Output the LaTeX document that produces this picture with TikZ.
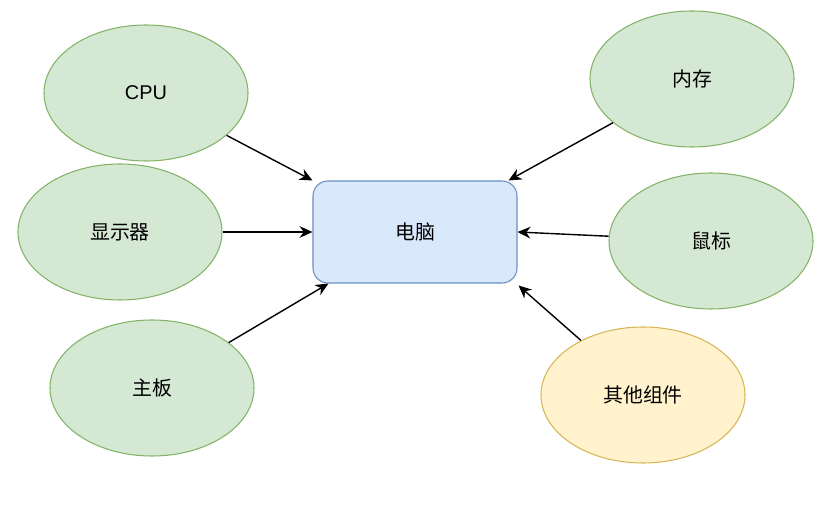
\documentclass[tikz,border=0pt]{standalone}
\usepackage{fontspec}
\setmainfont{Liberation Sans}
\newfontfamily\cjk{Noto Sans CJK SC}
\usetikzlibrary{shapes.geometric,arrows.meta,calc}
\definecolor{partfill}{HTML}{D5E8D4}
\definecolor{partline}{HTML}{82B366}
\definecolor{pcfill}{HTML}{DAE8FC}
\definecolor{pcline}{HTML}{6C8EBF}
\definecolor{otherfill}{HTML}{FFF2CC}
\definecolor{otherline}{HTML}{D6B656}
\tikzset{
  part/.style={ellipse, draw=partline, fill=partfill, line width=0.9pt, minimum width=6.12cm, minimum height=4.08cm, inner sep=0pt, font=\cjk\fontsize{17}{20}\selectfont},
  pcbox/.style={rectangle, rounded corners=0.45cm, draw=pcline, fill=pcfill, line width=0.9pt, minimum width=6.12cm, minimum height=3.06cm, inner sep=0pt, font=\cjk\fontsize{17}{20}\selectfont},
  link/.style={-{Stealth[length=11pt,width=10pt]}, line width=1.2pt, black}
}

\begin{document}
\begin{tikzpicture}[x=0.03cm, y=-0.03cm]
\useasboundingbox (0,0) rectangle (831,515);
\node[pcbox] (pc) at (415,232) {电脑};
\node[part] (cpu) at (146,93) {\rmfamily CPU};
\node[part] (screen) at (120,232) {显示器};
\node[part] (board) at (152,388) {主板};
\node[part] (mem) at (692,79) {内存};
\node[part] (mouse) at (711,241) {鼠标};
\node[part, draw=otherline, fill=otherfill] (other) at (643,395) {其他组件};
\draw[link] (cpu) -- (pc.north west);
\draw[link] (screen) -- (pc.west);
\draw[link] (board) -- ($(pc.south west)+(16,0)$);
\draw[link] (mem) -- ($(pc.north east)+(-9,0)$);
\draw[link] (mouse) -- (pc.east);
\draw[link] (other) -- ($(pc.south east)+(1,2)$);
\end{tikzpicture}
\end{document}
